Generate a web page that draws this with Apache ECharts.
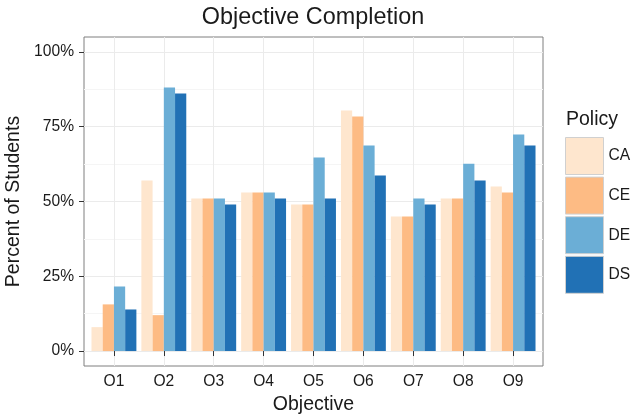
<!DOCTYPE html>
<html>
<head>
<meta charset="utf-8">
<script src="https://cdn.jsdelivr.net/npm/echarts@6/dist/echarts.min.js"></script>
<style>html,body{margin:0;padding:0;background:#fff}#c{width:634px;height:417px}</style>
</head>
<body>
<div id="c"></div>
<script>
const categories = ['O1','O2','O3','O4','O5','O6','O7','O8','O9'];
const policies = ['CA','CE','DE','DS'];
const CA = [8.0, 57.0, 51.0, 53.0, 49.0, 80.4, 45.0, 51.0, 55.0];
const CE = [15.6, 12.0, 51.0, 53.0, 49.0, 78.4, 45.0, 51.0, 53.0];
const DE = [21.6, 88.1, 51.0, 53.0, 64.7, 68.7, 51.0, 62.6, 72.4];
const DS = [13.9, 86.1, 49.0, 51.0, 51.0, 58.7, 49.0, 57.0, 68.7];
const yTicks = [0, 25, 50, 75, 100];
const yMinor = [12.5, 37.5, 62.5, 87.5];

const seriesValues = {CA, CE, DE, DS};
const colors = {CA:'#fee6ce', CE:'#fdbb84', DE:'#6baed6', DS:'#2171b5'};
const xPos = categories.map((c, i) => i + 1);
const font = 'Liberation Sans, Arial, sans-serif';
const txt = '#1a1a1a';

const chart = echarts.init(document.getElementById('c'), null, {renderer:'canvas'});
chart.setOption({
  animation: false,
  backgroundColor: '#fff',
  textStyle: {fontFamily: font},
  title: [
    {text: 'Objective Completion', left: 313, top: 6, textAlign: 'center', padding: 0,
     textStyle: {fontFamily: font, fontSize: 23.4, fontWeight: 'normal', color: txt}},
    {text: 'Policy', left: 566, top: 110, padding: 0,
     textStyle: {fontFamily: font, fontSize: 19.5, fontWeight: 'normal', color: txt}}
  ],
  legend: {
    orient: 'vertical', left: 565, top: 137, padding: 0,
    itemWidth: 38, itemHeight: 37, itemGap: 1.6,
    icon: 'rect',
    data: policies,
    textStyle: {fontFamily: font, fontSize: 15.6, color: txt},
    itemStyle: {borderColor: '#d0d0d0', borderWidth: 1},
    selectedMode: false
  },
  grid: {left: 84, top: 37, width: 459, height: 329, show: true, containLabel: false,
         outerBoundsMode: 'none',
         borderColor: '#7f7f7f', borderWidth: 1, backgroundColor: 'transparent'},
  xAxis: {
    type: 'value', min: 0.4, max: 9.6,
    name: 'Objective', nameLocation: 'middle', nameGap: 27,
    nameTextStyle: {fontFamily: font, fontSize: 19.5, color: txt},
    axisLine: {show: false},
    axisTick: {show: true, length: 5, inside: false, customValues: xPos, lineStyle: {color: '#333'}},
    axisLabel: {customValues: xPos, formatter: v => categories[Math.round(v) - 1],
                fontFamily: font, fontSize: 15.6, color: txt, margin: 8},
    splitLine: {show: true, lineStyle: {color: '#ebebeb', width: 1}}
  },
  yAxis: [{
    type: 'value', min: -5, max: 105,
    name: 'Percent of Students', nameLocation: 'middle', nameGap: 58, nameRotate: 90,
    nameTextStyle: {fontFamily: font, fontSize: 19.5, color: txt},
    axisLine: {show: false},
    axisTick: {show: true, length: 5, customValues: yTicks, lineStyle: {color: '#333'}},
    axisLabel: {customValues: yTicks, formatter: v => v + '%',
                fontFamily: font, fontSize: 15.6, color: txt, margin: 10},
    splitLine: {show: true, lineStyle: {color: '#ebebeb', width: 1}}
  }, {
    type: 'value', min: -5, max: 105, position: 'left',
    axisLine: {show: false},
    axisTick: {show: false, customValues: yMinor},
    axisLabel: {show: false, customValues: yMinor},
    splitLine: {show: true, lineStyle: {color: '#f5f5f5', width: 1}}
  }],
  series: policies.map(p => ({
    name: p, type: 'bar', yAxisIndex: 0,
    barGap: '0%', barCategoryGap: '10%',
    itemStyle: {color: colors[p]},
    data: seriesValues[p].map((v, i) => [xPos[i], v])
  }))
});
</script>
</body>
</html>
